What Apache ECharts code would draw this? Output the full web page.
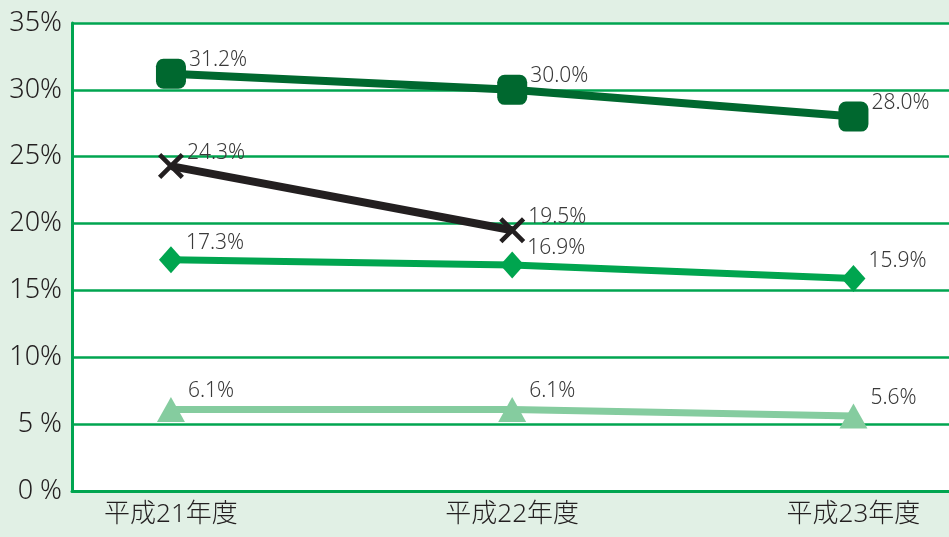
<!DOCTYPE html>
<html><head><meta charset="utf-8">
<script src="https://cdn.jsdelivr.net/npm/echarts@6/dist/echarts.min.js"></script>
<style>html,body{margin:0;padding:0;background:#e1f0e5;}#c{width:949px;height:537px;}</style>
</head><body><div id="c"></div>
<script>
const categories = ['平成21年度', '平成22年度', '平成23年度'];
const seriesDark = [31.2, 30.0, 28.0];
const seriesBlack = [24.3, 19.5];
const seriesGreen = [17.3, 16.9, 15.9];
const seriesLight = [6.1, 6.1, 5.6];
const yTicks = [0, 5, 10, 15, 20, 25, 30, 35];

const FONT = '"Noto Sans", "Noto Sans CJK JP", sans-serif';
const crossPath = 'path://M2.5,0 L10,7.5 L17.5,0 L20,2.5 L12.5,10 L20,17.5 L17.5,20 L10,12.5 L2.5,20 L0,17.5 L7.5,10 L0,2.5 Z';

function pts(arr){ return arr.map((v,i)=>[i,v]); }
function lbl(dy){
  return {show:true, position:'right', distance:3, offset:[0,dy], color:'#3a3a3a', fontSize:21, fontWeight:300, fontFamily:FONT,
    formatter: p => p.value[1].toFixed(1) + '%'};
}

const chart = echarts.init(document.getElementById('c'));
chart.setOption({
  backgroundColor:'#e1f0e5',
  animation:false,
  grid:{left:72, right:0, top:23, bottom:46, show:true, backgroundColor:'#ffffff', borderWidth:0},
  xAxis:{type:'value', min:-0.29, max:2.28,
    axisLine:{show:true, lineStyle:{color:'#00a550', width:3}},
    axisTick:{show:false}, splitLine:{show:false},
    axisLabel:{customValues:[0,1,2], formatter:v=>categories[Math.round(v)], color:'#231f20', fontSize:26, fontWeight:300, fontFamily:FONT, margin:11}
  },
  yAxis:{type:'value', min:0, max:35, interval:5,
    axisLine:{show:true, onZero:false, lineStyle:{color:'#00a550', width:3}},
    axisTick:{show:false},
    splitLine:{show:true, lineStyle:{color:'#00a550', width:2.5}},
    axisLabel:{color:'#231f20', fontSize:27, fontWeight:300, fontFamily:FONT, margin:10,
      formatter:v=> yTicks.includes(v) ? (v<10 ? v+' %' : v+'%') : ''}
  },
  series:[
    {type:'line', data:pts(seriesLight), symbol:'triangle', symbolSize:[28,25], z:2,
      lineStyle:{color:'#85cc9f', width:7}, itemStyle:{color:'#85cc9f'}, label:lbl(-18)},
    {type:'line', data:pts(seriesGreen), symbol:'diamond', symbolSize:[24,27], z:3,
      lineStyle:{color:'#00a54f', width:7}, itemStyle:{color:'#00a54f'}, label:lbl(-17)},
    {type:'line', data:pts(seriesBlack), symbol:crossPath, symbolSize:26, z:4,
      lineStyle:{color:'#231f20', width:8}, itemStyle:{color:'#231f20'}, label:lbl(-13)},
    {type:'line', data:pts(seriesDark), symbol:'roundRect', symbolSize:30, z:5,
      lineStyle:{color:'#00682f', width:8}, itemStyle:{color:'#00682f'}, label:lbl(-14)}
  ]
});
</script></body></html>
